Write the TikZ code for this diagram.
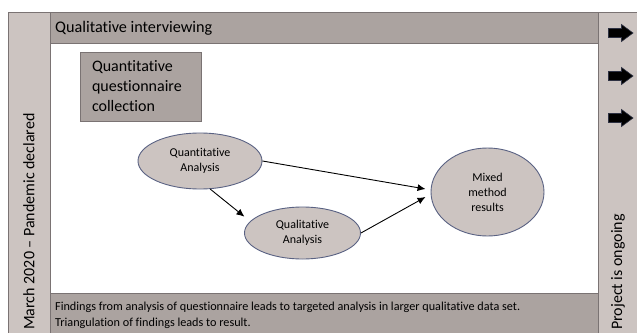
\documentclass[tikz,border=0pt]{standalone}
\usepackage{fontspec}
\setmainfont{Carlito}[RawFeature=-liga]
\usetikzlibrary{shapes.geometric,arrows.meta}
\definecolor{lightcol}{HTML}{CCC4C1}
\definecolor{darkcol}{HTML}{ABA3A0}
\definecolor{edgecol}{HTML}{7A7373}
\definecolor{elledge}{HTML}{5A6283}
\tikzset{
  panel/.style={draw=edgecol, line width=0.8pt},
  ell/.style={ellipse, draw=elledge, line width=0.9pt, fill=lightcol, inner sep=0pt, align=center, font=\fontsize{12}{15}\selectfont},
  arr/.style={-{Latex[length=8pt,width=7pt]}, line width=0.9pt, black},
  barrow/.pic={\draw[fill=black, draw=elledge!50!black, line width=0.6pt] (-12,-4.5) -- (1,-4.5) -- (1,-8.5) -- (12.5,0) -- (1,8.5) -- (1,4.5) -- (-12,4.5) -- cycle;}
}
\begin{document}
\begin{tikzpicture}[x=1pt,y=-1pt]
\useasboundingbox (0,0) rectangle (637,332);
% columns and bars
\fill[white] (0,0) rectangle (637,332);
\draw[panel, fill=lightcol] (8,12) rectangle (50,345);
\draw[panel, fill=lightcol] (598,12) rectangle (645,345);
\draw[panel, fill=darkcol] (50,12) rectangle (598,43);
\draw[panel, fill=darkcol] (50,293) rectangle (598,345);
% texts in bars
\node[anchor=west, inner sep=0pt, font=\fontsize{16.2}{20}\selectfont] (ti) at (55,28) {Qualitative interviewing};
\node[anchor=west, inner sep=0pt, align=left, font=\fontsize{12.2}{16}\selectfont] (bt) at (55,315) {Findings from analysis of questionnaire leads to targeted analysis in larger qualitative data set.\\Triangulation of findings leads to result.};
\node[rotate=90, anchor=west, inner sep=0pt, font=\fontsize{16}{20}\selectfont] (lt) at (29,330) {March 2020 – Pandemic declared};
\node[rotate=90, anchor=west, inner sep=0pt, font=\fontsize{16}{20}\selectfont] (rt) at (618,330) {Project is ongoing};
% questionnaire box
\node[panel, fill=darkcol, minimum width=121pt, minimum height=69pt, text width=97pt, inner xsep=12pt, align=left, font=\fontsize{16}{20}\selectfont] (qq) at (140.5,86.5) {Quantitative\\questionnaire\\collection};
% ellipses
\node[ell, minimum width=124pt, minimum height=56pt] (qa) at (200,161) {Quantitative\\Analysis};
\node[ell, minimum width=116pt, minimum height=52pt] (ql) at (302.5,233) {Qualitative\\Analysis};
\node[ell, minimum width=113pt, minimum height=88pt] (mx) at (487.5,192) {Mixed\\method\\results};
% connectors
\draw[arr] (qa.east) -- ([xshift=-5pt,yshift=3pt]mx.west);
\draw[arr] (qa.-70) -- ([xshift=-22pt,yshift=-4.5pt]ql.150);
\draw[arr] (ql.east) -- ([xshift=-5pt,yshift=-5pt]mx.west);
% block arrows
\coordinate (b1) at (620.5,33);
\coordinate (b2) at (620.5,76);
\coordinate (b3) at (620.5,118);
\pic at (b1) {barrow};
\pic at (b2) {barrow};
\pic at (b3) {barrow};
\end{tikzpicture}
\end{document}
